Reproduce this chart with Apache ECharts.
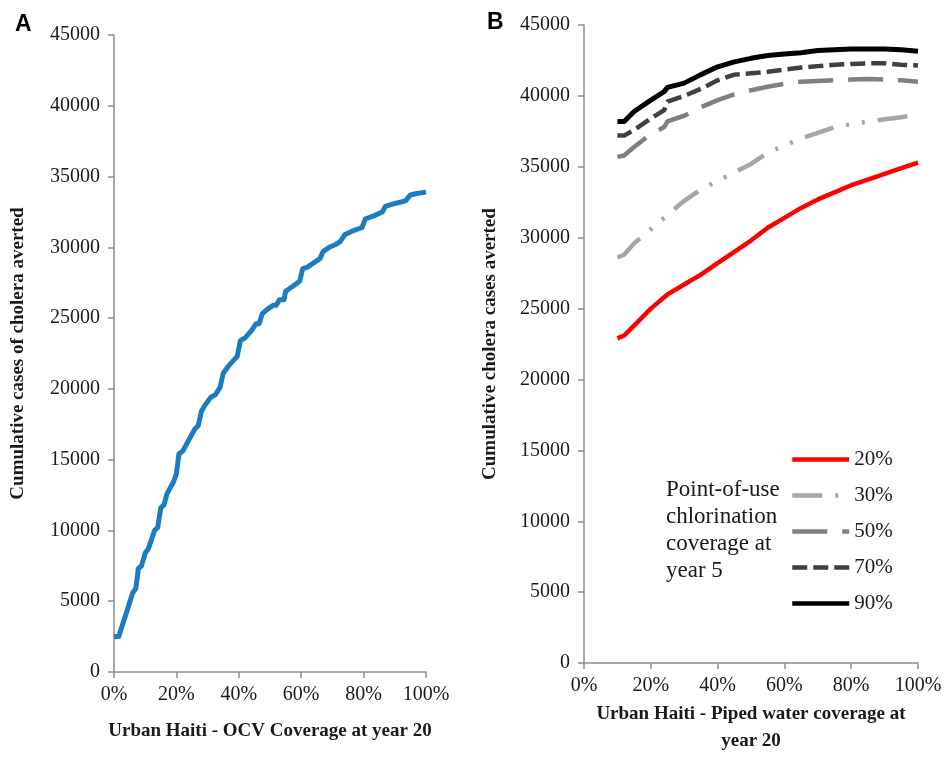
<!DOCTYPE html>
<html>
<head>
<meta charset="utf-8">
<title>Cumulative cholera cases averted – Urban Haiti</title>
<script src="https://cdn.jsdelivr.net/npm/echarts@6/dist/echarts.min.js"></script>
<style>
  html, body { margin: 0; padding: 0; background: #ffffff; }
  #chart { width: 946px; height: 760px; }
</style>
</head>
<body>
<div id="chart"></div>
<script>
// Panel A: OCV coverage at year 20 (%) vs cumulative cases averted
const ocvCoverage = [0, 1.5, 4, 6, 7, 7.8, 8.8, 10, 11, 13, 14, 15, 16, 17, 19, 20, 20.8, 22, 24, 26, 27, 28,
  29, 31, 32.5, 34, 35, 37, 39.5, 40.5, 42, 44, 45.5, 46.5, 47.5, 49, 51, 52, 53, 54.5, 55, 57, 59.5, 60.5,
  62, 64, 66, 67, 69, 71, 72.5, 74, 77, 79.5, 80.5, 83, 85, 86, 87, 90, 92, 93.5, 95, 97, 100];
const ocvAverted = [2500, 2500, 4200, 5600, 5900, 7300, 7500, 8400, 8700, 10000, 10200, 11600, 11800, 12600,
  13400, 14000, 15400, 15600, 16400, 17200, 17400, 18400, 18800, 19400, 19600, 20100, 21100, 21700, 22300,
  23400, 23600, 24100, 24600, 24600, 25300, 25600, 25900, 25900, 26300, 26300, 26900, 27200, 27600, 28500,
  28600, 28900, 29200, 29700, 30000, 30200, 30400, 30900, 31200, 31400, 32000, 32200, 32400, 32500, 32900,
  33100, 33200, 33300, 33700, 33800, 33900];

// Panel B: piped water coverage at year 20 (%) for each point-of-use chlorination level
const pipedCoverage = [10, 12, 15, 20, 24, 25, 30, 35, 40, 45, 50, 55, 60, 65, 70, 75, 80, 85, 90, 95, 100];
const pou20 = [22900, 23100, 23800, 25000, 25800, 26000, 26700, 27400, 28200, 29000, 29800, 30700, 31400,
  32100, 32700, 33200, 33700, 34100, 34500, 34900, 35300];
const pou30 = [28600, 28800, 29600, 30600, 31400, 31600, 32600, 33400, 34000, 34600, 35200, 36000, 36500,
  37000, 37400, 37800, 38000, 38200, 38350, 38500, 38700];
const pou50 = [35700, 35800, 36400, 37300, 37800, 38200, 38600, 39200, 39700, 40100, 40400, 40650, 40850,
  41000, 41050, 41100, 41150, 41200, 41150, 41100, 41000];
const pou70 = [37200, 37200, 37600, 38400, 39000, 39600, 40000, 40500, 41100, 41500, 41600, 41700, 41850,
  42000, 42100, 42200, 42250, 42300, 42300, 42200, 42150];
const pou90 = [38200, 38200, 38900, 39700, 40300, 40600, 40900, 41500, 42050, 42400, 42650, 42850, 42950,
  43050, 43200, 43250, 43300, 43300, 43300, 43250, 43150];

const pouLabels = ['20%', '30%', '50%', '70%', '90%'];
const pouSeries = [pou20, pou30, pou50, pou70, pou90];
const pouStyles = [
  { color: '#ff0000', width: 4.5, type: 'solid' },
  { color: '#a6a6a6', width: 4.5, type: [30, 13, 3, 13, 3, 13] },
  { color: '#808080', width: 4.5, type: [35, 15] },
  { color: '#404040', width: 4.5, type: [15, 6] },
  { color: '#000000', width: 5, type: 'solid' }
];

const serif = 'Liberation Serif, Times New Roman, serif';
const axisGrey = '#8c8c8c';
const textColor = '#1a1a1a';

function pairs(xs, ys) {
  return xs.map((x, i) => [x, ys[i]]);
}

function xAxisFor(gridIndex, name, nameGap) {
  return {
    type: 'value', gridIndex, min: 0, max: 100, interval: 20,
    name, nameLocation: 'middle', nameGap,
    nameTextStyle: { fontFamily: serif, fontWeight: 'bold', fontSize: 19, color: textColor, lineHeight: 27 },
    axisLine: { show: true, lineStyle: { color: axisGrey, width: 1.5 } },
    axisTick: { show: true, inside: false, length: 6, lineStyle: { color: axisGrey, width: 1.5 } },
    axisLabel: { formatter: '{value}%', fontFamily: serif, fontSize: 20, color: textColor, margin: 13 },
    splitLine: { show: false }
  };
}

function yAxisFor(gridIndex, name, nameGap) {
  return {
    type: 'value', gridIndex, min: 0, max: 45000, interval: 5000,
    name, nameLocation: 'middle', nameGap,
    nameTextStyle: { fontFamily: serif, fontWeight: 'bold', fontSize: 19, color: textColor },
    axisLine: { show: true, lineStyle: { color: axisGrey, width: 1.5 } },
    axisTick: { show: true, inside: false, length: 6, lineStyle: { color: axisGrey, width: 1.5 } },
    axisLabel: { formatter: v => String(v), fontFamily: serif, fontSize: 20, color: textColor, margin: 14 },
    splitLine: { show: false }
  };
}

const series = [{
  name: 'OCV',
  type: 'line', xAxisIndex: 0, yAxisIndex: 0,
  data: pairs(ocvCoverage, ocvAverted),
  symbol: 'none', silent: true,
  lineStyle: { color: '#1c7cc2', width: 5, join: 'round' }
}];
pouLabels.forEach((label, i) => {
  series.push({
    name: label,
    type: 'line', xAxisIndex: 1, yAxisIndex: 1,
    data: pairs(pipedCoverage, pouSeries[i]),
    symbol: 'none', silent: true,
    itemStyle: { color: pouStyles[i].color },
    lineStyle: { color: pouStyles[i].color, width: pouStyles[i].width, type: pouStyles[i].type, join: 'round' }
  });
});

const chart = echarts.init(document.getElementById('chart'), null, { renderer: 'canvas' });
chart.setOption({
  backgroundColor: '#ffffff',
  animation: false,
  title: [
    { text: 'A', left: 10, top: 8, textStyle: { fontFamily: 'Liberation Sans, Arial, sans-serif', fontWeight: 'bold', fontSize: 23, color: '#000' } },
    { text: 'B', left: 482, top: 6, textStyle: { fontFamily: 'Liberation Sans, Arial, sans-serif', fontWeight: 'bold', fontSize: 23, color: '#000' } }
  ],
  grid: [
    { left: 114, top: 35, width: 312, height: 637 },
    { left: 584, top: 25, width: 334, height: 648 }
  ],
  xAxis: [
    xAxisFor(0, 'Urban Haiti - OCV Coverage at year 20', 46),
    xAxisFor(1, 'Urban Haiti - Piped water coverage at\nyear 20', 36)
  ],
  yAxis: [
    yAxisFor(0, 'Cumulative cases of cholera averted', 86),
    yAxisFor(1, 'Cumulative cholera cases averted', 84)
  ],
  legend: {
    data: pouLabels,
    orient: 'vertical',
    left: 790, top: 449, padding: 0,
    itemWidth: 57, itemHeight: 20, itemGap: 15,
    selectedMode: false,
    itemStyle: { opacity: 0 },
    lineStyle: { width: 4.5 },
    textStyle: { fontFamily: serif, fontSize: 21, lineHeight: 20, color: textColor }
  },
  graphic: [{
    type: 'text',
    left: 666, top: 476,
    style: {
      text: 'Point-of-use\nchlorination\ncoverage at\nyear 5',
      font: '23px Liberation Serif',
      lineHeight: 27,
      fill: textColor
    }
  }],
  series
});
</script>
</body>
</html>
